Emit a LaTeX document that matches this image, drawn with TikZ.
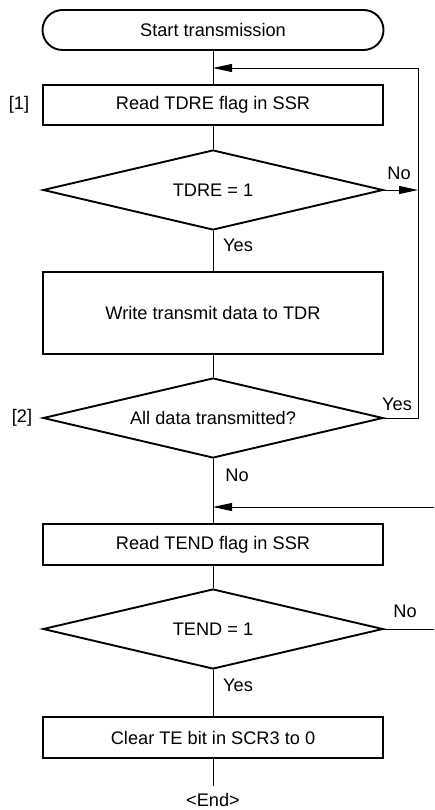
\documentclass[tikz,border=0pt]{standalone}
\usepackage{fontspec}
\setmainfont{Liberation Sans}
\usetikzlibrary{shapes.misc,shapes.geometric,arrows.meta}
\begin{document}
\begin{tikzpicture}[x=1pt,y=-1pt,
  every node/.style={font=\fontsize{18.2}{21}\selectfont},
  box/.style={draw, line width=1.9pt, minimum width=340pt, inner sep=0pt},
  term/.style={draw, rounded rectangle, line width=1.9pt, minimum width=341pt, minimum height=40pt, inner sep=0pt},
  dia/.style={draw, diamond, line width=1.9pt, minimum width=340pt, minimum height=80pt, inner sep=0pt, aspect=4.25},
  conn/.style={line width=0.9pt},
  arr/.style={conn, -{Triangle[length=19pt,width=8pt]}},
  lbl/.style={inner sep=0pt}]
\useasboundingbox (0,0) rectangle (434,810);

\node[term] (start) at (213,30) {Start transmission};
\node[box, minimum height=40pt] (read1) at (213,105) {Read TDRE flag in SSR};
\node[dia] (d1) at (213,190) {TDRE = 1};
\node[box, minimum height=82pt] (write) at (213,313) {Write transmit data to TDR};
\node[dia] (d2) at (213,418) {All data transmitted?};
\node[box, minimum height=41pt] (read2) at (213,544.5) {Read TEND flag in SSR};
\node[dia] (d3) at (213,629) {TEND = 1};
\node[box, minimum height=41pt] (clear) at (213,737.5) {Clear TE bit in SCR3 to 0};
\node[lbl] (endlbl) at (213,799.5) {<End>};

\node[lbl] (s1) at (19,105) {[1]};
\node[lbl] (s2) at (22,418) {[2]};

\coordinate (loopR) at (418,68);
\coordinate (join1) at (213,68);
\coordinate (rin) at (434,507);
\coordinate (rout) at (434,629);
\coordinate (endpt) at (213,786);

\draw[conn] (start.south) -- (read1.north);
\draw[conn] (read1.south) -- (d1.north);
\draw[conn] (d1.south) -- (write.north);
\draw[conn] (write.south) -- (d2.north);
\draw[conn] (d2.south) -- (read2.north);
\draw[conn] (read2.south) -- (d3.north);
\draw[conn] (d3.south) -- (clear.north);
\draw[conn] (clear.south) -- (endpt);

\draw[arr] (d2.east) -| (loopR) -- (join1);
\draw[arr] (d1.east) -- (d1.east -| loopR);
\draw[arr] (rin) -- (rin -| read2.north);
\draw[conn] (d3.east) -- (rout);

\node[lbl] (no1) at (399,173) {No};
\node[lbl] (yes1) at (238,245) {Yes};
\node[lbl] (yes2) at (397,404) {Yes};
\node[lbl] (no2) at (237,475) {No};
\node[lbl] (no3) at (405,611) {No};
\node[lbl] (yes3) at (238,685) {Yes};
\end{tikzpicture}
\end{document}
